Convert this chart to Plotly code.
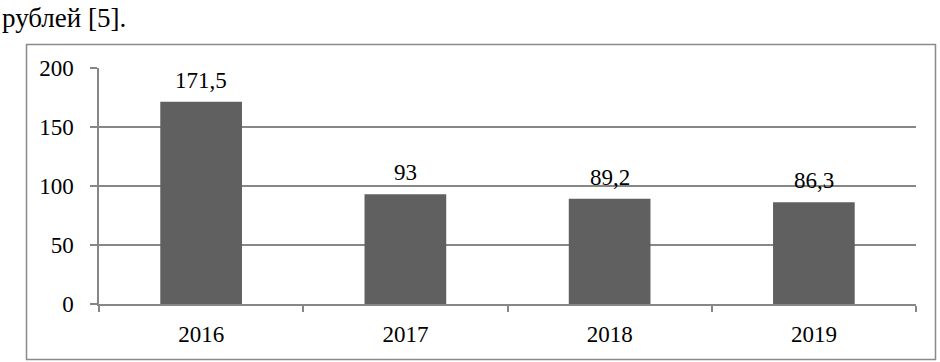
import plotly.graph_objects as go

years = ["2016", "2017", "2018", "2019"]
values = [171.5, 93, 89.2, 86.3]
labels = ["171,5", "93", "89,2", "86,3"]
y_ticks = [0, 50, 100, 150, 200]
header = "рублей [5]."

W, H = 940, 362
L, R, T, B = 99, 24, 68, 58
pw, ph = W - L - R, H - T - B

def px_x(x):
    return (x - L) / pw

def px_y(y):
    return (H - B - y) / ph

FONT = "Liberation Serif"
GRAY = "#878787"

fig = go.Figure()
fig.add_trace(go.Bar(
    x=years, y=values, marker=dict(color="#606060", line=dict(width=0)),
    width=0.40, hoverinfo="skip",
))

for i, (v, lab) in enumerate(zip(values, labels)):
    fig.add_annotation(x=i, y=v, xref="x", yref="y", text=lab, showarrow=False,
                       yanchor="bottom", yshift=7,
                       font=dict(family=FONT, size=23, color="#000"))

fig.add_annotation(x=px_x(0), y=px_y(1), xref="paper", yref="paper", text=header,
                   showarrow=False, xanchor="left", yanchor="top",
                   font=dict(family=FONT, size=27, color="#000"))

fig.add_shape(type="rect", xref="paper", yref="paper",
              x0=px_x(26.5), x1=px_x(935.5), y0=px_y(359.5), y1=px_y(44.5),
              line=dict(color="#8a8a8a", width=1.5), fillcolor="rgba(0,0,0,0)", layer="below")

fig.update_layout(
    width=W, height=H, margin=dict(l=L, r=R, t=T, b=B),
    paper_bgcolor="white", plot_bgcolor="white", showlegend=False,
    font=dict(family=FONT, size=23, color="#000"),
    xaxis=dict(type="category", showline=True, linecolor=GRAY, linewidth=1.5,
               ticks="outside", tickson="boundaries", ticklen=6, tickcolor=GRAY,
               tickwidth=1.5, showgrid=False, tickfont=dict(family=FONT, size=23),
               ticklabelstandoff=9, range=[-0.5, 3.5]),
    yaxis=dict(range=[0, 200], tickvals=y_ticks, showgrid=True, gridcolor=GRAY,
               gridwidth=1.5, showline=True, linecolor=GRAY, linewidth=1.5,
               ticks="outside", ticklen=7, tickcolor=GRAY, tickwidth=1.5,
               ticklabelstandoff=12,
               zeroline=False, tickfont=dict(family=FONT, size=23)),
)

fig.write_html("out.html", config={"displayModeBar": False},
               post_script="document.body.style.margin='0';")
